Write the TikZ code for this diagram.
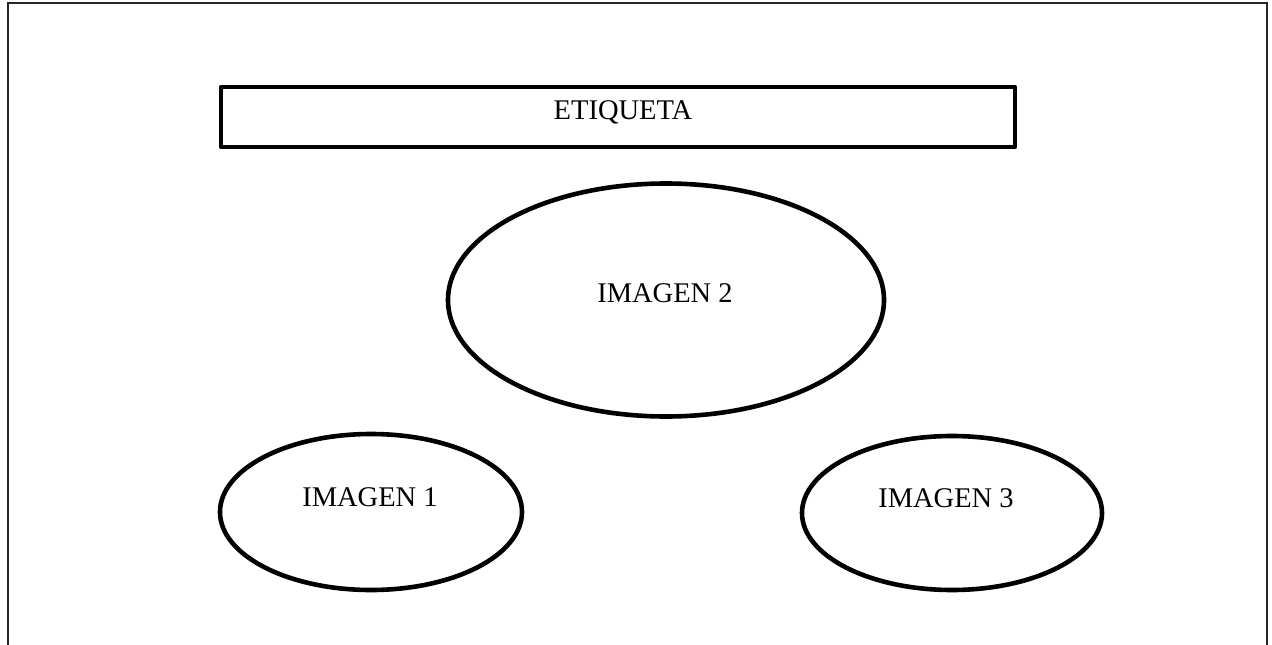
\documentclass[tikz,border=0pt]{standalone}
\usepackage{fontspec}
\setmainfont{Liberation Serif}
\usetikzlibrary{shapes.geometric}

\begin{document}
\begin{tikzpicture}[x=1pt,y=-1pt,font=\fontsize{28.5}{34}\selectfont]

  \tikzstyle{frame}=[line width=1.6pt,draw=black!85]
  \tikzstyle{tag}=[rectangle,line width=4.6pt,draw=black,line join=round,inner sep=0pt]
  \tikzstyle{imagen}=[ellipse,line width=4.6pt,draw=black,inner sep=0pt]
  \tikzstyle{caption}=[inner sep=0pt,anchor=center]

  \useasboundingbox (0,0) rectangle (1272,645);

  % marco abierto por abajo
  \coordinate (fl) at (8,645);
  \coordinate (fr) at (1267,645);
  \draw [frame] (fl) -- (8,3) -- (1267,3) -- (fr);

  \node [tag,minimum width=794pt,minimum height=60pt] (etiqueta) at (618,117) {};
  \node [caption] (etiquetatxt) at (623,112) {ETIQUETA};

  \node [imagen,minimum width=436pt,minimum height=233pt] (img2) at (666,300) {};
  \node [imagen,minimum width=302pt,minimum height=156pt] (img1) at (371,512) {};
  \node [imagen,minimum width=300pt,minimum height=154pt] (img3) at (952,513) {};

  \node [caption] (img2txt) at (665,293) {IMAGEN 2};
  \node [caption] (img1txt) at (370,497) {IMAGEN 1};
  \node [caption] (img3txt) at (946,498) {IMAGEN 3};

\end{tikzpicture}
\end{document}
